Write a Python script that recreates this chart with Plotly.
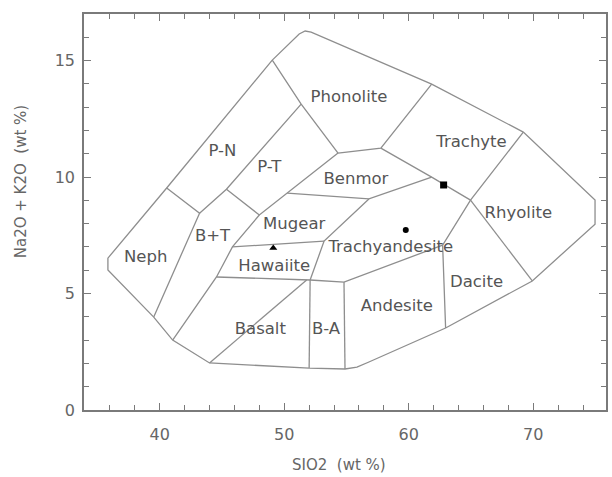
import plotly.graph_objects as go

# --- TAS classification field boundaries (SiO2 wt %, Na2O+K2O wt %) ---
outer_x = [49.04, 51.2, 51.68, 52.16, 61.84, 69.2, 74.96, 74.96, 69.92, 62.96,
           56.8, 55.84, 54.88, 52.0, 44.0, 41.04, 39.52, 35.84, 35.84, 40.56, 49.04]
outer_y = [15.02, 16.14, 16.27, 16.22, 13.99, 11.93, 9.01, 7.98, 5.54, 3.52,
           2.06, 1.84, 1.76, 1.8, 2.02, 3.0, 3.99, 6.01, 6.52, 9.53, 15.02]

phonolite_left_x = [49.04, 51.36, 54.32]
phonolite_left_y = [15.02, 13.13, 11.03]

phonolite_base_x = [54.32, 57.76, 61.84]
phonolite_base_y = [11.03, 11.24, 13.99]

trachyte_base_x = [57.76, 61.84, 64.96]
trachyte_base_y = [11.24, 10.0, 9.01]

trachyte_rhyolite_x = [69.2, 64.96, 62.72, 62.96]
trachyte_rhyolite_y = [11.93, 9.01, 7.08, 3.52]

rhyolite_dacite_x = [64.96, 69.92]
rhyolite_dacite_y = [9.01, 5.54]

neph_x = [40.56, 43.2, 39.52]
neph_y = [9.53, 8.45, 3.99]

pn_pt_x = [51.36, 45.36, 43.2]
pn_pt_y = [13.13, 9.48, 8.45]

pt_base_x = [45.36, 48.0, 54.32]
pt_base_y = [9.48, 8.37, 11.03]

benmoreite_base_x = [50.24, 56.8, 61.84]
benmoreite_base_y = [9.31, 9.06, 10.0]

mugearite_right_x = [56.8, 53.2, 52.08]
mugearite_right_y = [9.06, 7.25, 5.58]

bt_right_x = [48.0, 45.84, 44.56, 41.04]
bt_right_y = [8.37, 7.0, 5.71, 3.0]

hawaiite_top_x = [45.84, 53.2]
hawaiite_top_y = [7.0, 7.25]

basalt_top_x = [44.56, 52.08, 54.8, 62.72]
basalt_top_y = [5.71, 5.58, 5.49, 7.08]

ba_left_x = [52.08, 52.0]
ba_left_y = [5.58, 1.8]

ba_right_x = [54.8, 54.88]
ba_right_y = [5.49, 1.76]

basalt_split_x = [44.0, 51.8]
basalt_split_y = [2.02, 5.58]

# --- field names and where they are written ---
field_names = ["Phonolite", "P-N", "P-T", "Trachyte", "Benmor", "Rhyolite",
               "Mugear", "B+T", "Neph", "Hawaiite", "Trachyandesite",
               "Basalt", "B-A", "Andesite", "Dacite"]
field_label_x = [55.2, 45.04, 48.8, 65.04, 55.76, 68.8,
                 50.8, 44.24, 38.88, 49.2, 58.56,
                 48.08, 53.36, 59.04, 65.44]
field_label_y = [13.4, 11.07, 10.39, 11.46, 9.87, 8.41,
                 7.94, 7.42, 6.52, 6.14, 6.95,
                 3.43, 3.43, 4.42, 5.45]

# --- samples ---
square_x = [62.8]
square_y = [9.66]
circle_x = [59.76]
circle_y = [7.73]
triangle_x = [49.12]
triangle_y = [6.95]

LINE = "#8e8e8e"
TEXT = "#555555"
AXIS = "#7a7a7a"
FONT = "DejaVu Sans"

fig = go.Figure()

boundaries = [
    (outer_x, outer_y),
    (phonolite_left_x, phonolite_left_y),
    (phonolite_base_x, phonolite_base_y),
    (trachyte_base_x, trachyte_base_y),
    (trachyte_rhyolite_x, trachyte_rhyolite_y),
    (rhyolite_dacite_x, rhyolite_dacite_y),
    (neph_x, neph_y),
    (pn_pt_x, pn_pt_y),
    (pt_base_x, pt_base_y),
    (benmoreite_base_x, benmoreite_base_y),
    (mugearite_right_x, mugearite_right_y),
    (bt_right_x, bt_right_y),
    (hawaiite_top_x, hawaiite_top_y),
    (basalt_top_x, basalt_top_y),
    (ba_left_x, ba_left_y),
    (ba_right_x, ba_right_y),
    (basalt_split_x, basalt_split_y),
]
for bx, by in boundaries:
    fig.add_trace(go.Scatter(x=bx, y=by, mode="lines",
                             line=dict(color=LINE, width=1.3),
                             hoverinfo="skip", showlegend=False))

fig.add_trace(go.Scatter(x=field_label_x, y=field_label_y, mode="text",
                         text=field_names,
                         textfont=dict(family=FONT, size=16.5, color=TEXT),
                         hoverinfo="skip", showlegend=False))

fig.add_trace(go.Scatter(x=square_x, y=square_y, mode="markers",
                         marker=dict(symbol="square", size=7, color="black"),
                         showlegend=False))
fig.add_trace(go.Scatter(x=circle_x, y=circle_y, mode="markers",
                         marker=dict(symbol="circle", size=6, color="black"),
                         showlegend=False))
fig.add_trace(go.Scatter(x=triangle_x, y=triangle_y, mode="markers",
                         marker=dict(symbol="triangle-up", size=7, color="black"),
                         showlegend=False))

axis_common = dict(
    showgrid=False, zeroline=False,
    showline=True, linecolor=AXIS, linewidth=1.5, mirror="ticks",
    ticks="inside", ticklen=7, tickcolor=AXIS, tickwidth=1.2,
    tickfont=dict(family=FONT, size=16, color="#666666"),
)

fig.update_xaxes(range=[33.92, 75.84], tick0=0, dtick=10,
                 minor=dict(dtick=2, ticks="inside", ticklen=5,
                            tickcolor=AXIS, tickwidth=1),
                 ticklabelstandoff=9, **axis_common)
fig.update_yaxes(range=[0, 17], tick0=0, dtick=5,
                 minor=dict(dtick=1, ticks="inside", ticklen=5,
                            tickcolor=AXIS, tickwidth=1),
                 ticklabelstandoff=4, **axis_common)

fig.update_layout(
    width=612, height=477,
    margin=dict(l=84, r=4, t=14, b=67),
    plot_bgcolor="white", paper_bgcolor="white",
    annotations=[
        dict(text="SIO2  (wt %)", xref="paper", yref="paper",
             x=0.489, y=-0.139, xanchor="center", yanchor="middle",
             showarrow=False,
             font=dict(family=FONT, size=15, color="#666666")),
        dict(text="Na2O + K2O  (wt %)", xref="paper", yref="paper",
             x=-0.12, y=0.576, xanchor="center", yanchor="middle",
             textangle=-90, showarrow=False,
             font=dict(family=FONT, size=15, color="#666666")),
    ],
)

fig.write_html("out.html")
